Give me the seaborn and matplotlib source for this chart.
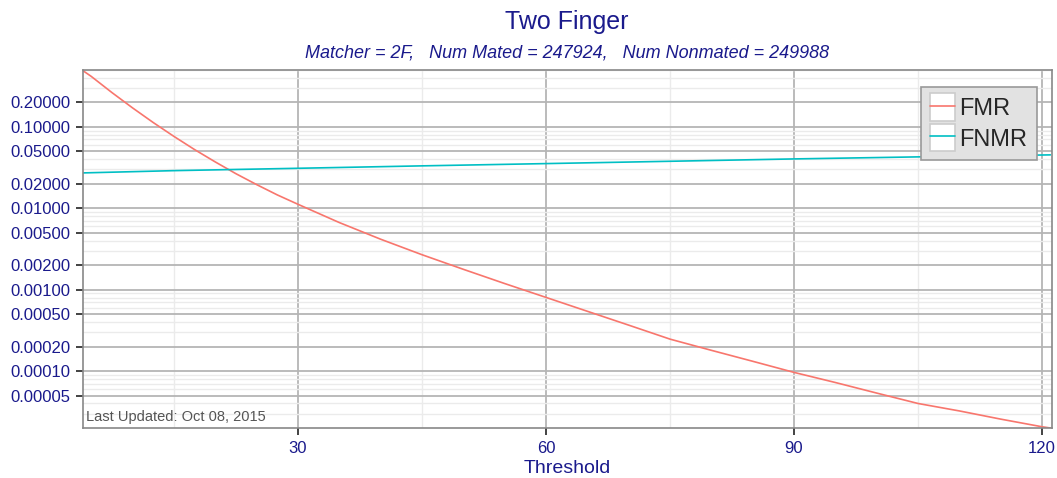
import numpy as np
import pandas as pd
import matplotlib
matplotlib.use('Agg')
import matplotlib.pyplot as plt
import seaborn as sns
from matplotlib.ticker import FixedLocator, LogLocator, NullFormatter, FuncFormatter
from matplotlib.legend_handler import HandlerLine2D
from matplotlib.patches import Rectangle

# values
fmr_threshold = [4, 5, 7.5, 10, 12.5, 15, 17.5, 20, 22.5, 25, 27.5, 30, 35, 40, 45, 50,
                 55, 60, 65, 70, 75, 80, 85, 90, 95, 100, 105, 110, 115, 120, 121]
fmr_values = [0.49, 0.417, 0.264, 0.171, 0.113, 0.0764, 0.0526, 0.0371, 0.0266, 0.01955,
              0.0146, 0.0112, 0.00668, 0.00417, 0.00269, 0.00178, 0.00119, 0.000804,
              0.000543, 0.000367, 0.000247, 0.00018, 0.000132, 9.64e-5, 7.24e-5, 5.37e-5,
              4.0e-5, 3.24e-5, 2.57e-5, 2.07e-5, 2.0e-5]

fnmr_threshold = [4, 15, 30, 45, 60, 75, 90, 105, 121]
fnmr_values = [0.0272, 0.029, 0.031, 0.0332, 0.0354, 0.0378, 0.0404, 0.0428, 0.0453]

y_ticks = [0.00005, 0.0001, 0.0002, 0.0005, 0.001, 0.002, 0.005, 0.01, 0.02, 0.05, 0.1, 0.2]
x_ticks = [30, 60, 90, 120]

df = pd.concat([
    pd.DataFrame({'Threshold': fmr_threshold, 'rate': fmr_values, 'series': 'FMR'}),
    pd.DataFrame({'Threshold': fnmr_threshold, 'rate': fnmr_values, 'series': 'FNMR'}),
])

sns.set_style('white')
plt.rcParams['font.family'] = ['Liberation Sans', 'DejaVu Sans']

navy = '#1a1a8c'

fig = plt.figure(figsize=(10.57, 4.78), dpi=100)
ax = fig.add_axes([0.0785, 0.1046, 0.9168, 0.749])

sns.lineplot(data=df, x='Threshold', y='rate', hue='series',
             palette={'FMR': '#F8766D', 'FNMR': '#00BFC4'}, linewidth=1.2, ax=ax)

ax.set_yscale('log')
ax.set_xlim(4, 121.2)
ax.set_ylim(2.0e-5, 0.5)

ax.yaxis.set_major_locator(FixedLocator(y_ticks))
ax.yaxis.set_major_formatter(FuncFormatter(lambda v, p: '%.5f' % v))
ax.yaxis.set_minor_locator(LogLocator(base=10, subs=np.arange(1, 10), numticks=50))
ax.yaxis.set_minor_formatter(NullFormatter())
ax.xaxis.set_major_locator(FixedLocator(x_ticks))
ax.xaxis.set_minor_locator(FixedLocator([15, 45, 75, 105]))

ax.grid(which='major', color='#b5b5b5', linewidth=1.3)
ax.grid(which='minor', color='#ebebeb', linewidth=1.0)
ax.set_axisbelow(True)

ax.tick_params(which='major', length=5, width=1.2, color='#222222', labelcolor=navy,
               labelsize=12, bottom=True, left=True, pad=4)
ax.tick_params(which='minor', length=0)
for s in ax.spines.values():
    s.set_color('#888888')
    s.set_linewidth(1.2)

ax.set_xlabel('Threshold', color=navy, fontsize=14, labelpad=3)
ax.set_ylabel('')

fig.text(0.5365, 0.955, 'Two Finger', color=navy, fontsize=18, ha='center', va='center')
fig.text(0.5365, 0.889, 'Matcher = 2F,   Num Mated = 247924,   Num Nonmated = 249988',
         color=navy, fontsize=13, style='italic', ha='center', va='center')

ax.text(0.003, 0.01, 'Last Updated: Oct 08, 2015', transform=ax.transAxes,
        color='#555555', fontsize=10.5, ha='left', va='bottom')


class BoxedKey(HandlerLine2D):
    def create_artists(self, legend, orig_handle, xdescent, ydescent, width, height,
                       fontsize, trans):
        arts = super().create_artists(legend, orig_handle, xdescent, ydescent,
                                      width, height, fontsize, trans)
        box = Rectangle((-xdescent, -ydescent - 0.13 * fontsize), width, height + 0.26 * fontsize,
                        facecolor='white', edgecolor='#cccccc', linewidth=1.2, transform=trans)
        return [box] + list(arts)


handles, labels = ax.get_legend_handles_labels()
leg = ax.legend(handles, labels, loc='upper right', bbox_to_anchor=(0.9845, 0.9525),
                borderaxespad=0, fontsize=17, frameon=True, fancybox=False,
                framealpha=1, facecolor='#e2e2e2', edgecolor='#999999',
                handlelength=1.05, handleheight=1.0, handletextpad=0.2,
                labelspacing=0.3, borderpad=0.4,
                handler_map={h: BoxedKey() for h in handles})
leg.get_frame().set_linewidth(1.2)

fig.savefig('out.png', dpi=100)
